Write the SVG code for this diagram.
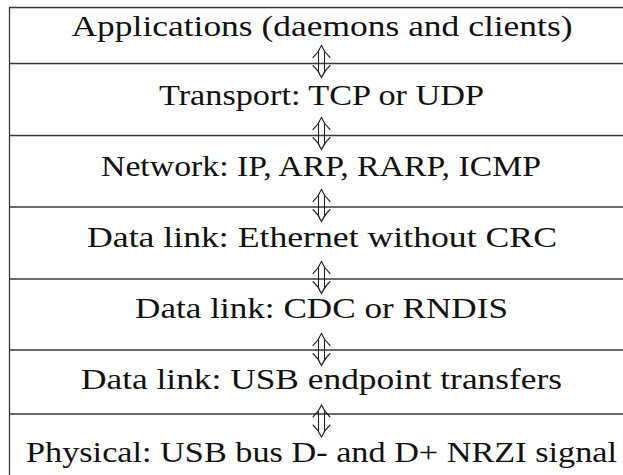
<svg xmlns="http://www.w3.org/2000/svg" width="623" height="475" viewBox="0 0 623 475">
  <style>
    .rule { stroke: #3a3a3a; stroke-width: 1.3; fill: none; }
    .layer { font-family: 'Liberation Serif', 'Times New Roman', serif; font-size: 29px; fill: #111; text-anchor: middle; }
    .arrow { stroke: #222; stroke-width: 1.1; fill: none; stroke-linecap: round; }
  </style>
  <defs>
    <!-- double-shafted up/down arrow, centred on its origin -->
    <g id="updown" class="arrow">
      <path d="M -3 -10.5 V 10.5 M 3 -10.5 V 10.5"/>
      <path d="M -8.5 -4 Q -3 -9 0 -16 Q 3 -9 8.5 -4"/>
      <path d="M -8.5 4 Q -3 9 0 16 Q 3 9 8.5 4"/>
    </g>
  </defs>

  <!-- table frame and row rules -->
  <g id="frame">
    <line class="rule" x1="9.5" y1="7.5" x2="9.5" y2="475"/>
    <line class="rule" x1="9" y1="7.5" x2="623" y2="7.5"/>
    <line class="rule" x1="9" y1="63.5" x2="623" y2="63.5"/>
    <line class="rule" x1="9" y1="135.5" x2="623" y2="135.5"/>
    <line class="rule" x1="9" y1="207" x2="623" y2="207"/>
    <line class="rule" x1="9" y1="279" x2="623" y2="279"/>
    <line class="rule" x1="9" y1="350" x2="623" y2="350"/>
    <line class="rule" x1="9" y1="414" x2="623" y2="414"/>
  </g>

  <g id="applications"><text class="layer" font-family="Liberation Serif, serif" x="322" y="36" textLength="501" lengthAdjust="spacingAndGlyphs">Applications (daemons and clients)</text></g>
  <g id="transport"><text class="layer" font-family="Liberation Serif, serif" x="321.5" y="105" textLength="325" lengthAdjust="spacingAndGlyphs">Transport: TCP or UDP</text></g>
  <g id="network"><text class="layer" font-family="Liberation Serif, serif" x="321" y="176" textLength="440" lengthAdjust="spacingAndGlyphs">Network: IP, ARP, RARP, ICMP</text></g>
  <g id="ethernet"><text class="layer" font-family="Liberation Serif, serif" x="322" y="247" textLength="470" lengthAdjust="spacingAndGlyphs">Data link: Ethernet without CRC</text></g>
  <g id="cdc-rndis"><text class="layer" font-family="Liberation Serif, serif" x="321.5" y="318" textLength="373" lengthAdjust="spacingAndGlyphs">Data link: CDC or RNDIS</text></g>
  <g id="usb-endpoint"><text class="layer" font-family="Liberation Serif, serif" x="321.5" y="389" textLength="481" lengthAdjust="spacingAndGlyphs">Data link: USB endpoint transfers</text></g>
  <g id="physical"><text class="layer" font-family="Liberation Serif, serif" x="321.5" y="461.5" textLength="591" lengthAdjust="spacingAndGlyphs">Physical: USB bus D- and D+ NRZI signal</text></g>

  <!-- arrows between adjacent layers -->
  <g id="connectors">
    <use href="#updown" x="321.5" y="61.5"/>
    <use href="#updown" x="321.5" y="133.5"/>
    <use href="#updown" x="321.5" y="205.5"/>
    <use href="#updown" x="321.5" y="277.5"/>
    <use href="#updown" x="321.5" y="349.5"/>
    <use href="#updown" x="321.5" y="421"/>
  </g>
</svg>
